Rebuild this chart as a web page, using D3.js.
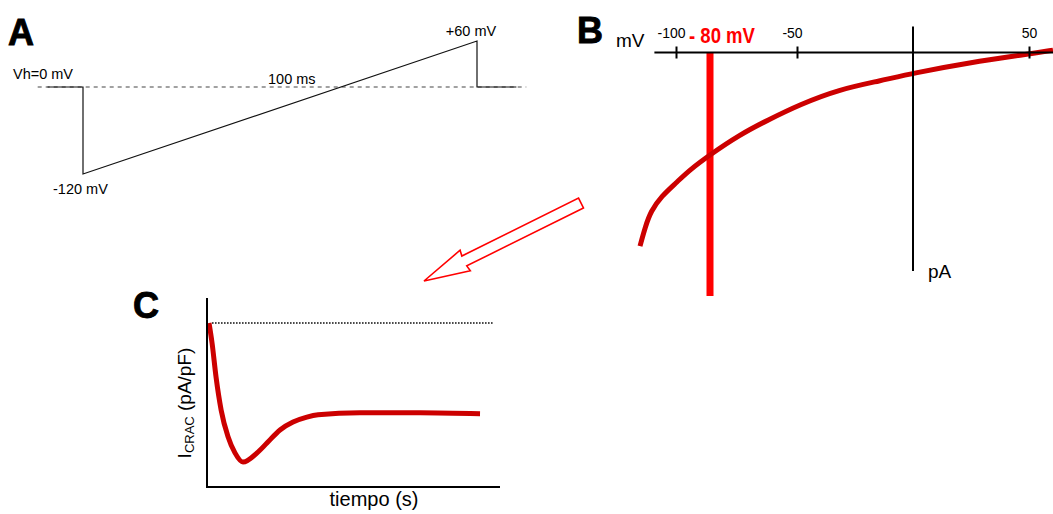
<!DOCTYPE html>
<html>
<head>
<meta charset="utf-8">
<script src="https://cdn.jsdelivr.net/npm/d3@7"></script>
<style>
  html, body { margin: 0; padding: 0; background: #fff; }
  svg { display: block; }
  text { font-family: "Liberation Sans", Arial, Helvetica, sans-serif; fill: #000; }
</style>
</head>
<body>
<script>
// ---------- Panel A: voltage ramp protocol ----------
const protocolTime = [-9, 0, 0, 100, 100, 110];      // ms
const protocolVolt = [0, 0, -120, 60, 0, 0];          // mV
const holdingExtent = [-11.5, 112.5];                 // ms, dashed 0 mV reference

// ---------- Panel B: CRAC current-voltage relation ----------
const ivVoltage = [-120, -117, -114, -108, -100, -92, -80, -70, -60, -49, -32, -14, 0, 25, 50, 60];   // mV
const ivCurrent = [-89, -80, -73, -66, -60, -54, -47, -38, -31, -24, -17, -13, -9.5, -4.5, -0.7, 1.1]; // pA
const ivTickValues = [-100, -50, 50];
const testPotential = -80;                            // mV

// ---------- Panel C: I_CRAC time course ----------
const courseTime = [0.75, 1.9, 3.4, 5.3, 7.9, 10.5, 13.5, 18.8, 22.5, 27.4, 32.3, 37.5, 41.7, 57.4, 80, 102.5]; // s
const courseCurrent = [0, -0.61, -1.65, -2.65, -3.47, -3.96, -4.24, -3.96, -3.66, -3.26, -3.02, -2.87, -2.80, -2.74, -2.74, -2.77]; // pA/pF

const W = 1053, H = 514;
const svg = d3.select("body").append("svg").attr("width", W).attr("height", H);
const FONT = '"Liberation Sans", Arial, Helvetica, sans-serif';

function panelLetter(txt, x, y) {
  svg.append("text").attr("x", x).attr("y", y)
    .attr("font-size", 36).attr("font-weight", "bold")
    .attr("stroke", "#000").attr("stroke-width", 0.9)
    .text(txt);
}

// ===== Panel A =====
const xA = d3.scaleLinear().domain([0, 100]).range([83, 477]);
const yA = d3.scaleLinear().domain([-120, 0, 60]).range([174, 87, 41]);

panelLetter("A", 8, 45);

svg.append("line")
  .attr("x1", xA(holdingExtent[0])).attr("x2", xA(holdingExtent[1]))
  .attr("y1", yA(0)).attr("y2", yA(0))
  .attr("stroke", "#444").attr("stroke-width", 1.2)
  .attr("stroke-dasharray", "4,4");

const protocolLine = d3.line().x(d => xA(d[0])).y(d => yA(d[1]));
svg.append("path")
  .datum(d3.zip(protocolTime, protocolVolt))
  .attr("d", protocolLine)
  .attr("fill", "none").attr("stroke", "#111").attr("stroke-width", 1.2);

svg.append("text").attr("x", 13).attr("y", 79).attr("font-size", 14.5).text("Vh=0 mV");
svg.append("text").attr("x", xA(53)).attr("y", 84).attr("font-size", 14.5)
  .attr("text-anchor", "middle").text("100 ms");
svg.append("text").attr("x", xA(100) - 6).attr("y", 36).attr("font-size", 14.5)
  .attr("text-anchor", "middle").text("+60 mV");
svg.append("text").attr("x", 53).attr("y", 194).attr("font-size", 14.5).text("-120 mV");

// ===== Panel B =====
const xB = d3.scaleLinear()
  .domain([-120, -100, -80, -50, 0, 50, 60])
  .range([640, 676, 710, 797, 913, 1029, 1053]);
const yB = d3.scaleLinear().domain([-100, 0]).range([270, 52.5]);

panelLetter("B", 577, 43);
svg.append("text").attr("x", 616).attr("y", 47).attr("font-size", 19).text("mV");

// test-potential marker at -80 mV
svg.append("line")
  .attr("x1", xB(testPotential)).attr("x2", xB(testPotential))
  .attr("y1", yB(0)).attr("y2", yB(-112))
  .attr("stroke", "#ff0000").attr("stroke-width", 7);
svg.append("text")
  .attr("x", xB(testPotential) - 21).attr("y", 43)
  .attr("font-family", '"Liberation Sans Narrow", "Arial Narrow", ' + FONT)
  .attr("font-size", 22).attr("font-weight", "bold")
  .attr("textLength", 66).attr("lengthAdjust", "spacingAndGlyphs")
  .style("fill", "#ff0000")
  .text("- 80 mV");

// I-V curve
const ivLine = d3.line().x(d => xB(d[0])).y(d => yB(d[1])).curve(d3.curveBasis);
svg.append("path")
  .datum(d3.zip(ivVoltage, ivCurrent))
  .attr("d", ivLine)
  .attr("fill", "none").attr("stroke", "#cc0000").attr("stroke-width", 5)
  .attr("stroke-linecap", "butt");

// voltage axis
svg.append("line")
  .attr("x1", xB(-112)).attr("x2", xB(60))
  .attr("y1", yB(0)).attr("y2", yB(0))
  .attr("stroke", "#000").attr("stroke-width", 2);
const axB = svg.append("g").attr("transform", `translate(0,${yB(0)})`)
  .call(d3.axisTop(xB).tickValues(ivTickValues).tickSize(6).tickPadding(9)
    .tickFormat(d => String(d)));
axB.select(".domain").remove();
axB.selectAll(".tick line").attr("y1", 6).attr("y2", -6)
  .attr("stroke", "#000").attr("stroke-width", 2);
axB.selectAll(".tick text")
  .attr("font-family", FONT).attr("font-size", 14)
  .attr("dx", d => d < 0 ? -5 : 0);

// current axis
svg.append("line")
  .attr("x1", xB(0)).attr("x2", xB(0))
  .attr("y1", yB(12)).attr("y2", yB(-100.5))
  .attr("stroke", "#000").attr("stroke-width", 2);
svg.append("text").attr("x", xB(0) + 15).attr("y", 278).attr("font-size", 19).text("pA");

// ===== Arrow from B to C =====
const arrowTail = [581, 203], arrowTip = [424, 281];
const arrowLen = Math.hypot(arrowTip[0] - arrowTail[0], arrowTip[1] - arrowTail[1]);
const arrowAngle = Math.atan2(arrowTip[1] - arrowTail[1], arrowTip[0] - arrowTail[0]) * 180 / Math.PI;
const headLen = 45, shaftHalf = 5.5, barbHalf = 11.5;
const arrowShape = [
  [0, -shaftHalf], [arrowLen - headLen, -shaftHalf], [arrowLen - headLen - 1, -barbHalf],
  [arrowLen, 0],
  [arrowLen - headLen - 1, barbHalf], [arrowLen - headLen, shaftHalf], [0, shaftHalf]
];
svg.append("path")
  .attr("transform", `translate(${arrowTail[0]},${arrowTail[1]}) rotate(${arrowAngle})`)
  .attr("d", d3.line()(arrowShape) + "Z")
  .attr("fill", "#fff").attr("stroke", "#ff0000").attr("stroke-width", 1.6)
  .attr("stroke-linejoin", "miter");

// ===== Panel C =====
const xC = d3.scaleLinear().domain([0, 110]).range([207, 500]);
const yC = d3.scaleLinear().domain([-5, 0]).range([487, 323]);

panelLetter("C", 133, 318);

// baseline reference
svg.append("line")
  .attr("x1", xC(1.9)).attr("x2", xC(107.5))
  .attr("y1", yC(0)).attr("y2", yC(0))
  .attr("stroke", "#000").attr("stroke-width", 1.3)
  .attr("stroke-dasharray", "1.5,1.5");

const courseLine = d3.line().x(d => xC(d[0])).y(d => yC(d[1])).curve(d3.curveMonotoneX);
svg.append("path")
  .datum(d3.zip(courseTime, courseCurrent))
  .attr("d", courseLine)
  .attr("fill", "none").attr("stroke", "#cc0000").attr("stroke-width", 5)
  .attr("stroke-linecap", "butt");

// axes
svg.append("path")
  .attr("d", d3.line()([[xC(0), yC(0.76)], [xC(0), yC(-5)], [xC(110), yC(-5)]]))
  .attr("fill", "none").attr("stroke", "#000").attr("stroke-width", 2)
  .attr("stroke-linejoin", "miter");

const yLab = svg.append("text")
  .attr("transform", `translate(191,403) rotate(-90)`)
  .attr("text-anchor", "middle").attr("font-size", 19);
yLab.append("tspan").text("I");
yLab.append("tspan").attr("font-size", 13).attr("dy", 3).text("CRAC");
yLab.append("tspan").attr("dy", -3).text(" (pA/pF)");

svg.append("text").attr("x", 374).attr("y", 506).attr("text-anchor", "middle")
  .attr("font-size", 20).text("tiempo (s)");
</script>
</body>
</html>
